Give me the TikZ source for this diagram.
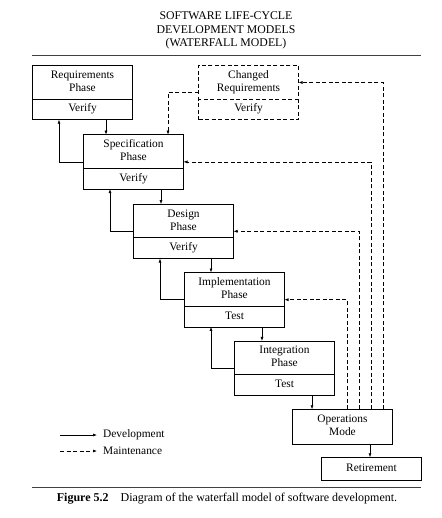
\documentclass[tikz,border=0pt]{standalone}
\usepackage{fontspec}
\setmainfont{Liberation Serif}
\usetikzlibrary{arrows.meta}
\usetikzlibrary{calc}
\usetikzlibrary{positioning}
\usetikzlibrary{shapes.multipart}

\tikzset{
  phase/.style={draw, line width=0.7pt, rectangle split, rectangle split parts=2,
    text width=100pt, align=center, inner xsep=0pt, inner ysep=3.5pt, outer sep=0pt,
    font=\fontsize{11.4}{13}\selectfont},
  changed/.style={phase, dash pattern=on 4pt off 2.5pt},
  mode/.style={draw, line width=0.7pt, text width=100pt, align=center,
    inner xsep=0pt, inner ysep=4.5pt, outer sep=0pt, font=\fontsize{11.4}{13}\selectfont},
  legend/.style={inner xsep=6pt, font=\fontsize{11.4}{13}\selectfont},
  dev/.style={-{Latex[length=4pt,width=3pt]}, line width=0.6pt},
  mnt/.style={dev, dash pattern=on 4pt off 2.5pt},
}

\begin{document}
\begin{tikzpicture}[x=1pt, y=-1pt]
\useasboundingbox (0,0) rectangle (441,518);

% Titulo
\node [align=center, font=\fontsize{11.8}{13.5}\selectfont] at (226,30.5) (title) {SOFTWARE LIFE-CYCLE\\ DEVELOPMENT MODELS\\ (WATERFALL MODEL)};
\draw [line width=0.8pt, black!75] (32,55) -- (421,55);

% Nodos
\node [phase] at (82.5,92.5) (req) {\strut Requirements\\ Phase\strut \nodepart{two} \strut Verify};
\node [changed, right=66pt of req] (chg) {\strut Changed\\ Requirements\strut \nodepart{two} \strut Verify};

\node [phase, below right=15pt and 51pt of req.south west] (spec) {\strut Specification\\ Phase\strut \nodepart{two} \strut Verify};
\node [phase, below right=15pt and 50pt of spec.south west] (design) {\strut Design\\ Phase\strut \nodepart{two} \strut Verify};
\node [phase, below right=14pt and 51pt of design.south west] (impl) {\strut Implementation\\ Phase\strut \nodepart{two} \strut Test};
\node [phase, below right=14pt and 50pt of impl.south west] (integ) {\strut Integration\\ Phase\strut \nodepart{two} \strut Test};

\node [mode, below right=14pt and 58pt of integ.south west] (ops) {\strut Operations\\ Mode\strut};
\node [mode, inner ysep=5pt, below right=13pt and 29pt of ops.south west] (ret) {\strut Retirement};

% Leyenda
\coordinate (devstart) at (60,435);
\node [legend, anchor=west] at (97,435) (devlbl) {Development};
\coordinate (mntstart) at (60,451);
\node [legend, anchor=west] at (97,451) (mntlbl) {Maintenance};

% Conexiones
\draw[dev] ([xshift=23.5pt]req.south) -- ([xshift=23.5pt]req.south |- spec.north);
\draw[dev] (spec.west) -| ([xshift=-23.5pt]req.south);

\draw[dev] ([xshift=27.5pt]spec.south) -- ([xshift=27.5pt]spec.south |- design.north);
\draw[dev] (design.west) -| ([xshift=-23.5pt]spec.south);

\draw[dev] ([xshift=27.5pt]design.south) -- ([xshift=27.5pt]design.south |- impl.north);
\draw[dev] (impl.west) -| ([xshift=-23.5pt]design.south);

\draw[dev] ([xshift=27.5pt]impl.south) -- ([xshift=27.5pt]impl.south |- integ.north);
\draw[dev] (integ.west) -| ([xshift=-23.5pt]impl.south);

\draw[dev] ([xshift=27.5pt]integ.south) -- ([xshift=27.5pt]integ.south |- ops.north);
\draw[dev] ([xshift=27.5pt]ops.south) -- ([xshift=27.5pt]ops.south |- ret.north);

\draw[mnt] (chg.west) -| ([xshift=34.5pt]spec.north);
\draw[mnt] ([xshift=40.5pt]ops.north) |- ([yshift=10pt]chg.east);
\draw[mnt] ([xshift=28.5pt]ops.north) |- (spec.east);
\draw[mnt] ([xshift=16.5pt]ops.north) |- (design.east);
\draw[mnt] ([xshift=4.5pt]ops.north) |- (impl.east);

\draw[dev] (devstart) -- (devlbl.west);
\draw[mnt] (mntstart) -- (mntlbl.west);

% Pie
\draw [line width=0.8pt, black!75] (32,487) -- (421,487);
\node [font=\fontsize{12}{14}\selectfont] at (227,499) (caption) {\textbf{Figure 5.2}\quad Diagram of the waterfall model of software development.};

\end{tikzpicture}
\end{document}
